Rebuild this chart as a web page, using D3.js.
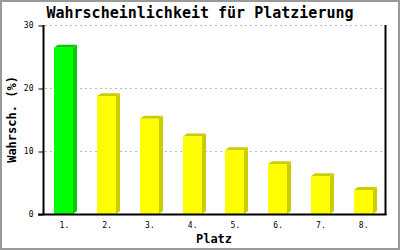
<!DOCTYPE html>
<html lang="de">
<head>
    <meta charset="UTF-8">
    <title>Platzierung</title>
    <script src="https://d3js.org/d3.v7.min.js"></script>
    <style>
        body { margin: 0; }
        text { font-family: "DejaVu Sans Mono", monospace; fill: #000; }
    </style>
</head>
<body>

<div id="chart"></div>

<script>
    // data
    var places = ["1.", "2.", "3.", "4.", "5.", "6.", "7.", "8."];
    var values = [26.4, 18.7, 15.1, 12.3, 10.1, 7.9, 6.0, 3.8];
    var yTicks = [0, 10, 20, 30];

    var width = 400, height = 250;
    var plotLeft = 43, plotRight = 385, plotTop = 25, plotBottom = 214;
    var depthX = 4, depthY = 3, barW = 19;

    var svg = d3.select("#chart")
        .append("svg")
        .attr("width", width)
        .attr("height", height);

    svg.append("rect")
        .attr("x", 1).attr("y", 1)
        .attr("width", width - 2).attr("height", height - 2)
        .attr("fill", "#fff")
        .attr("stroke", "#999")
        .attr("stroke-width", 2);

    var x = d3.scaleBand().domain(places).range([plotLeft, plotRight]).padding(0);
    var y = d3.scaleLinear().domain([0, 30]).range([plotBottom, plotTop]);

    // grid lines
    svg.selectAll(".grid")
        .data(yTicks.filter(function(d) { return d > 0; }))
        .enter()
        .append("line")
        .attr("x1", plotLeft + 2)
        .attr("x2", plotRight - 3)
        .attr("y1", function(d) { return y(d) + 0.5; })
        .attr("y2", function(d) { return y(d) + 0.5; })
        .attr("stroke", "#bbb")
        .attr("stroke-dasharray", "2,3");

    // bars (side, top, front)
    var bars = svg.selectAll(".bar")
        .data(values)
        .enter()
        .append("g");

    function bx(d, i) { return Math.round(x(places[i]) + 11.3); }

    bars.append("polygon")
        .attr("points", function(d, i) {
            var x0 = bx(d, i) + barW, t = y(d);
            return [[x0, t], [x0 + depthX, t - depthY], [x0 + depthX, plotBottom - depthY], [x0, plotBottom]].join(" ");
        })
        .attr("fill", function(d, i) { return i === 0 ? "#00cc00" : "#cccc00"; });

    bars.append("polygon")
        .attr("points", function(d, i) {
            var x0 = bx(d, i), t = y(d);
            return [[x0, t], [x0 + depthX, t - depthY], [x0 + barW + depthX, t - depthY], [x0 + barW, t]].join(" ");
        })
        .attr("fill", function(d, i) { return i === 0 ? "#00cc00" : "#cccc00"; });

    bars.append("rect")
        .attr("x", bx)
        .attr("y", function(d) { return y(d); })
        .attr("width", barW)
        .attr("height", function(d) { return plotBottom - y(d); })
        .attr("fill", function(d, i) { return i === 0 ? "#00ff00" : "#ffff00"; });

    // axes
    var yAxis = svg.append("g")
        .attr("transform", "translate(" + (plotLeft + 0.5) + ",0)")
        .call(d3.axisLeft(y).tickValues(yTicks).tickSize(5).tickPadding(5));
    yAxis.select(".domain").remove();
    yAxis.selectAll("line").attr("stroke", "#000").attr("transform", "translate(0,0.5)");
    yAxis.selectAll("text")
        .style("font-family", "DejaVu Sans Mono")
        .style("font-size", "8px")
        .attr("fill", "#000");

    var xAxis = svg.append("g")
        .attr("transform", "translate(0," + plotBottom + ")")
        .call(d3.axisBottom(x).tickSize(0).tickPadding(8));
    xAxis.select(".domain").remove();
    xAxis.selectAll("text")
        .style("font-family", "DejaVu Sans Mono")
        .style("font-size", "8px")
        .attr("fill", "#000");

    // frame lines
    svg.append("line")
        .attr("x1", plotLeft + 0.5).attr("x2", plotLeft + 0.5)
        .attr("y1", plotTop).attr("y2", plotBottom + 1)
        .attr("stroke", "#000").attr("stroke-width", 2);
    svg.append("line")
        .attr("x1", plotRight + 0.5).attr("x2", plotRight + 0.5)
        .attr("y1", plotTop).attr("y2", plotBottom + 1)
        .attr("stroke", "#000").attr("stroke-width", 2);
    svg.append("line")
        .attr("x1", plotLeft - 5).attr("x2", plotRight + 1.5)
        .attr("y1", plotBottom + 0.5).attr("y2", plotBottom + 0.5)
        .attr("stroke", "#000").attr("stroke-width", 2);

    // titles
    svg.append("text")
        .attr("x", 200).attr("y", 18)
        .attr("text-anchor", "middle")
        .style("font-size", "15px")
        .style("font-weight", "bold")
        .text("Wahrscheinlichkeit für Platzierung");

    svg.append("text")
        .attr("x", (plotLeft + plotRight) / 2).attr("y", 243)
        .attr("text-anchor", "middle")
        .style("font-size", "12px")
        .style("font-weight", "bold")
        .text("Platz");

    svg.append("text")
        .attr("transform", "translate(16," + ((plotTop + plotBottom) / 2) + ") rotate(-90)")
        .attr("text-anchor", "middle")
        .style("font-size", "12px")
        .style("font-weight", "bold")
        .text("Wahrsch. (%)");
</script>

</body>
</html>
